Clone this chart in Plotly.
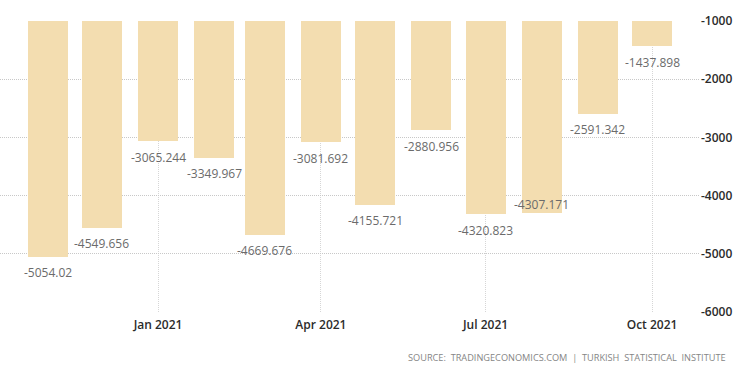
import plotly.graph_objects as go

months = ["2020-11-01", "2020-12-01", "2021-01-01", "2021-02-01", "2021-03-01", "2021-04-01",
          "2021-05-01", "2021-06-01", "2021-07-01", "2021-08-01", "2021-09-01", "2021-10-01"]
values = [-5054.02, -4549.656, -3065.244, -3349.967, -4669.676, -3081.692,
          -4155.721, -2880.956, -4320.823, -4307.171, -2591.342, -1437.898]
labels = ["-5054.02", "-4549.656", "-3065.244", "-3349.967", "-4669.676", "-3081.692",
          "-4155.721", "-2880.956", "-4320.823", "-4307.171", "-2591.342", "-1437.898"]
y_ticks = [-6000, -5000, -4000, -3000, -2000, -1000]
baseline = -1000

bar_color = "#F3DDB0"
label_shift = {9: 9}

fig = go.Figure()
fig.add_trace(go.Bar(
    x=months,
    y=[v - baseline for v in values],
    base=baseline,
    width=22.1 * 86400000,
    marker=dict(color=bar_color, line=dict(width=0)),
    hoverinfo="skip",
))

for i, (m, v, t) in enumerate(zip(months, values, labels)):
    fig.add_annotation(
        x=m, y=v, text=t, showarrow=False,
        yshift=label_shift.get(i, -16), xanchor="center", yanchor="middle",
        font=dict(family="Open Sans", size=12, color="#6b6b6b"),
    )

fig.add_annotation(
    xref="paper", yref="paper", x=1.04, y=-0.158,
    xanchor="right", yanchor="middle", showarrow=False,
    text="SOURCE:  TRADINGECONOMICS.COM  |  TURKISH  STATISTICAL  INSTITUTE",
    font=dict(family="Open Sans", size=9.2, color="#858585"),
)

fig.update_layout(
    width=750, height=375,
    margin=dict(l=0, r=50, t=21, b=63),
    paper_bgcolor="white", plot_bgcolor="white",
    showlegend=False,
    bargap=0,
    xaxis=dict(
        type="date",
        range=["2020-10-05 16:00", "2021-10-27 12:00"],
        tick0="2021-01-01", dtick="M3", tickformat="%b %Y",
        showgrid=True, gridcolor="#d6d6d6", gridwidth=1, griddash="1px,1px",
        zeroline=False, showline=False, ticks="", ticklabelstandoff=4,
        tickfont=dict(family="Open Sans", size=12, color="#2b2b2b", weight=600),
    ),
    yaxis=dict(
        side="right",
        range=[-6000, -1000],
        tickvals=y_ticks,
        ticktext=[str(t) for t in y_ticks],
        showgrid=True, gridcolor="#c8c8c8", gridwidth=1, griddash="1px,1px",
        zeroline=False, showline=False, ticks="",
        tickfont=dict(family="Open Sans", size=12, color="#2b2b2b", weight=600),
    ),
)

fig.write_html("out.html", config={"displayModeBar": False},
               post_script="document.body.style.margin='0';")
